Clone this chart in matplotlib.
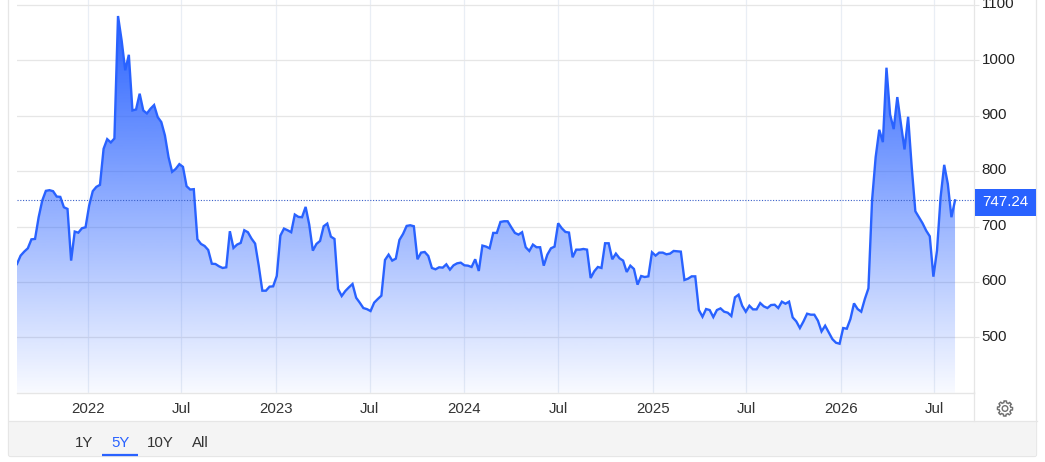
import numpy as np
import pandas as pd
import matplotlib
matplotlib.use("Agg")
import matplotlib.pyplot as plt
import matplotlib.dates as mdates
from matplotlib.patches import Rectangle, Polygon, FancyBboxPatch, Circle
from matplotlib.colors import to_rgb
from matplotlib.transforms import ScaledTranslation

plt.rcParams['font.family'] = ['Liberation Sans', 'DejaVu Sans']

values_2021_2022 = [632.5, 647.6, 654.8, 660.8, 677, 677.7, 716.9, 747, 764.5, 765.7, 763.9, 754.2, 753.6,
    734.9, 731.9, 638.6, 691, 689, 697, 698.8, 738, 763.9, 771.7, 775.3, 840.4, 857.8, 851.8, 859,
    1080, 1036, 982, 1010, 909.6, 911.4, 939.8, 909.6, 904.2, 912.7, 919.3, 897.6, 888.6, 864.5,
    825.3, 798.8, 804.2, 812.7, 807.8, 772.9, 766.9, 767.5, 677.1, 668.7, 665, 657.8, 633, 632.5,
    628.3, 625.3, 626.5, 691.6, 661.4, 667.5, 670.5, 693.4, 689.8, 678.3, 669.3, 629.5, 584.3, 584.3,
    591.6, 592.2, 610.8, 683.7, 696.4, 693.4, 689.8, 721.7, 717.5, 716.9, 735.5, 703.6, 656.6, 668.7,
    674.1, 700.6, 705.4, 681.9, 677.7, 587.3, 574.7, 583.7, 590.4]
values_2023_2025 = [596.4, 571.7, 562.7, 553, 551, 547.6, 562.7, 569.3, 575.3, 639.8, 649.4, 638.6, 642.2,
    675.9, 686.7, 701.2, 702.4, 700.6, 641, 653, 654.2, 647, 625.3, 622.9, 626.5, 625.9, 631.9, 622.3,
    630.1, 633.7, 634.9, 630.1, 629.5, 627.1, 641, 619.9, 665.7, 663.9, 660.8, 688.6, 688.6, 708.4,
    709.6, 709.6, 698.8, 688.6, 685.5, 689.8, 662.7, 656, 667.5, 662.7, 662.7, 629.5, 649.4, 660.8,
    663.9, 706, 697, 690.4, 689.2, 644.6, 658.4, 658.4, 659.6, 658.4, 607.2, 619.3, 627.1, 625.3,
    669.9, 669.9, 641, 651.2, 642.8, 638.6, 618.1, 629.5, 623.5, 595.2, 610.8, 609, 610.2, 653.6,
    647.6, 653, 653, 650, 651.2, 656, 655.4, 654.8, 603.6, 606, 610.2, 610.2]
values_2025_2026 = [549.4, 537.3, 551.2, 549.4, 536.7, 549.4, 552.4, 546.4, 544.6, 538.6, 572.3, 577.1,
    557.2, 546.4, 557.2, 550.6, 550.6, 562, 556, 553, 558.4, 559, 553, 564.5, 560.8, 564.5, 536.1,
    528.9, 516.9, 528.9, 542.8, 541, 541, 530.1, 510.8, 521.1, 509, 497, 490.4, 488.6, 516.9, 515.7,
    533.1, 561.4, 551.2, 546.4, 569.3, 588.6, 747, 825.3, 874.7, 852.4, 986.7, 902.4, 875.9, 933.7,
    885.5, 839.2, 898.2, 807.2, 727.7, 716.9, 706, 692.8, 682.5, 609.6, 656.6, 753, 811.4, 777.1,
    716.9, 747.24]
values = np.array(values_2021_2022 + values_2023_2025 + values_2025_2026)
last_value = 747.24
last_date = pd.Timestamp("2026-08-10")
dates = pd.date_range(end=last_date, periods=len(values), freq="7D")

y_ticks = [500, 600, 700, 800, 900, 1000, 1100]
x_tick_dates = ["2022-01-01", "2022-07-01", "2023-01-01", "2023-07-01", "2024-01-01",
                "2024-07-01", "2025-01-01", "2025-07-01", "2026-01-01", "2026-07-01"]
x_tick_labels = ["2022", "Jul", "2023", "Jul", "2024", "Jul", "2025", "Jul", "2026", "Jul"]
ranges = ["1Y", "5Y", "10Y", "All"]

BLUE = "#2962ff"
W, H = 1045, 462
fig = plt.figure(figsize=(W / 100, H / 100), dpi=100, facecolor="white")

# page chrome in pixel coordinates
bg = fig.add_axes([0, 0, 1, 1], zorder=0)
bg.set_xlim(0, W); bg.set_ylim(H, 0); bg.axis("off")
bg.add_patch(FancyBboxPatch((8.5, -5), 1028, 461.5, boxstyle="round,pad=0,rounding_size=2",
                            fc="white", ec="#e6e6e6", lw=0.9))
bg.add_patch(FancyBboxPatch((9, 421), 1027.2, 35, boxstyle="round,pad=0,rounding_size=2",
                            fc="#f4f4f4", ec="none"))
bg.plot([8.5, 1036.5], [421, 421], color="#e6e6e6", lw=0.9)
bg.plot([974.3, 974.3], [392, 421], color="#e6e6e6", lw=0.9)

# main chart
L, R, B = 17, 974.3, 392.6
ax = fig.add_axes([L / W, 1 - B / H, (R - L) / W, B / H], zorder=1)
ax.patch.set_alpha(0)
day_px = 0.5154
x0 = mdates.date2num(dates[0])
xlim = (x0, x0 + (R - L) / day_px)
ax.set_xlim(xlim)
ylim = (400.4, 1108.9)
ax.set_ylim(ylim)
xn = mdates.date2num(dates)

ax.set_yticks(y_ticks)
ax.set_xticks(mdates.date2num(pd.to_datetime(x_tick_dates)))
ax.set_xticklabels(x_tick_labels)
ax.yaxis.tick_right()
ax.tick_params(axis="y", length=3.6, width=0.8, color="#e6e6e6", pad=1.5, labelsize=10.9, labelcolor="#222222")
ax.tick_params(axis="x", length=0, pad=7, labelsize=10.8, labelcolor="#333333")
lift = ScaledTranslation(0, 1.6 / 72, fig.dpi_scale_trans)
for lab in ax.get_yticklabels():
    lab.set_transform(lab.get_transform() + lift)
ax.grid(True, axis="y", color="#e6e6e6", lw=0.9, zorder=1)
ax.grid(True, axis="x", color="#e9eef5", lw=0.9, zorder=1)
ax.set_axisbelow(True)
for s in ["top", "left"]:
    ax.spines[s].set_visible(False)
ax.spines["right"].set_color("#e6e6e6"); ax.spines["right"].set_linewidth(0.9)
ax.spines["bottom"].set_color("#e6e6e6"); ax.spines["bottom"].set_linewidth(1.0)

# gradient area
n = 400
rgb = to_rgb(BLUE)
alpha = np.linspace(0.03, 1.0, n).reshape(-1, 1)
grad = np.zeros((n, 1, 4))
grad[..., 0], grad[..., 1], grad[..., 2] = rgb
grad[..., 3] = alpha
top_v = values.max()
im = ax.imshow(grad, extent=[xn[0], xn[-1], ylim[0], top_v], origin="lower", aspect="auto",
               zorder=2, interpolation="bilinear")
poly = Polygon(np.column_stack([np.r_[xn[0], xn, xn[-1]], np.r_[ylim[0], values, ylim[0]]]),
               closed=True, transform=ax.transData, fc="none", ec="none")
ax.add_patch(poly)
im.set_clip_path(poly)
ax.set_xlim(xlim); ax.set_ylim(ylim)

ax.plot(xn, values, color=BLUE, lw=1.7, zorder=3, solid_joinstyle="miter")
ax.axhline(last_value, color="#3a5fc8", lw=0.8, ls=(0, (1, 1.5)), zorder=4)

# overlay for labels
ov = fig.add_axes([0, 0, 1, 1], zorder=2)
ov.set_xlim(0, W); ov.set_ylim(H, 0); ov.axis("off"); ov.patch.set_alpha(0)
ov.add_patch(Rectangle((975, 189), 61, 26.5, fc=BLUE, ec="none"))
ov.text(1005.5, 202.5, f"{last_value:.2f}", color="white", fontsize=10.9, ha="center", va="center")

range_x = [84, 120.5, 160.5, 200]
for lab, x in zip(ranges, range_x):
    ov.text(x, 443, lab, fontsize=10.8, ha="center", va="center",
            color=BLUE if lab == "5Y" else "#333333")
ov.plot([102, 138], [455, 455], color=BLUE, lw=1.6, solid_capstyle="butt")

# settings gear
cx, cy = 1005, 408.5
theta = np.linspace(0, 2 * np.pi, 97)[:-1]
teeth = 8
phase = (theta * teeth / (2 * np.pi)) % 1
rad = np.where((phase < 0.32) | (phase > 0.82), 7.6, 5.9)
ov.add_patch(Polygon(np.column_stack([cx + rad * np.cos(theta), cy + rad * np.sin(theta)]),
                     closed=True, fc="none", ec="#707070", lw=1.0))
ov.add_patch(Circle((cx, cy), 2.8, fc="none", ec="#707070", lw=1.0))

fig.savefig("out.png", dpi=100)
print(len(values))
